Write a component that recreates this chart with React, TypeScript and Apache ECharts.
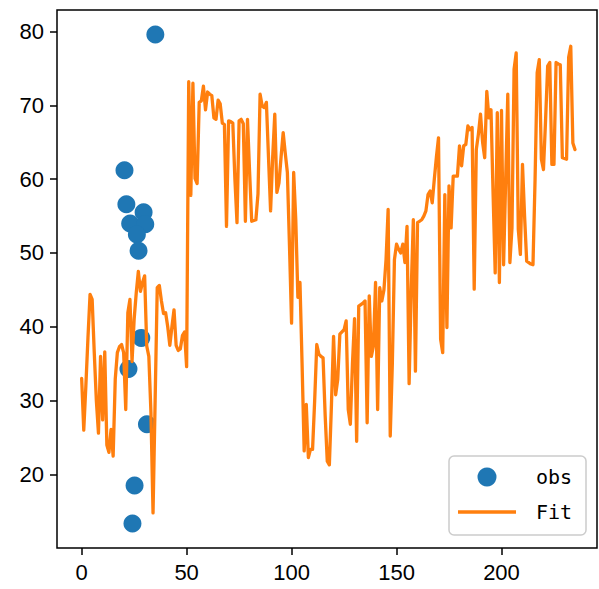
import React, { useEffect, useRef } from "react";
import * as echarts from "echarts";

const obsX = [35.1, 20.4, 21.3, 23.1, 29.5, 30.3, 26.3, 27.1, 28.4, 22.3, 31.1, 25.2, 24.2];
const obsY = [79.6, 61.2, 56.6, 54.0, 55.5, 53.9, 52.5, 50.3, 38.5, 34.3, 26.8, 18.5, 13.35];

const fitY = [
  33.0, 26.0, 32.0, 38.5, 44.4, 43.7, 36.5, 30.0, 25.6, 36.0,
  27.4, 36.6, 24.0, 23.0, 26.1, 22.5, 32.9, 36.5, 37.3, 37.6,
  36.5, 28.8, 41.9, 43.7, 35.3, 41.0, 44.6, 47.5, 44.8, 46.0,
  46.9, 37.4, 36.0, 28.4, 14.8, 30.0, 45.3, 45.6, 43.5, 41.8,
  41.9, 40.0, 37.5, 40.0, 42.3, 37.5, 36.8, 37.0, 38.8, 39.3,
  34.6, 73.2, 57.8, 73.0, 60.1, 59.4, 70.4, 70.6, 72.6, 69.4,
  71.8, 71.5, 71.3, 68.3, 68.1, 70.7, 70.2, 67.6, 67.4, 53.6,
  67.9, 67.8, 67.6, 60.0, 54.1, 67.9, 68.1, 67.5, 54.3, 68.1,
  61.0, 54.3, 54.4, 54.5, 58.0, 71.5, 69.9, 69.7, 70.4, 63.0,
  55.7, 63.0, 68.8, 58.2, 59.5, 63.0, 66.3, 63.5, 60.9, 51.0,
  40.5, 60.9, 54.5, 44.0, 46.0, 35.0, 23.2, 29.5, 22.3, 23.4,
  23.4, 30.0, 37.6, 36.3, 36.0, 35.8, 28.0, 21.8, 21.3, 29.5,
  38.7, 30.8, 32.9, 39.0, 39.3, 39.6, 40.8, 28.8, 26.8, 35.0,
  41.1, 24.5, 42.8, 43.0, 43.2, 43.5, 27.0, 44.2, 36.0, 37.4,
  46.0, 28.8, 45.3, 43.5, 45.0, 49.1, 55.9, 25.2, 35.0, 49.1,
  51.2, 50.5, 50.0, 51.2, 48.7, 53.6, 32.3, 45.0, 54.5, 34.0,
  54.1, 54.3, 54.5, 55.0, 55.7, 57.9, 58.4, 56.8, 60.0, 63.0,
  65.6, 38.3, 36.5, 57.9, 39.9, 59.1, 53.4, 60.4, 60.4, 60.4,
  64.5, 61.8, 64.5, 64.7, 67.2, 66.7, 67.0, 45.1, 64.0, 66.1,
  68.8, 65.0, 62.9, 71.9, 68.3, 69.4, 58.0, 47.3, 69.0, 46.0,
  69.3, 48.4, 60.0, 71.5, 48.7, 53.4, 74.9, 77.1, 53.2, 49.8,
  62.0, 55.0, 48.9, 48.7, 48.5, 48.4, 60.0, 74.4, 76.2, 62.7,
  61.3, 68.0, 75.3, 75.8, 62.0, 62.0, 75.8, 75.6, 75.5, 62.9,
  62.8, 62.7, 76.5, 78.0, 64.9, 64.0,
];

const xTicks = [0, 50, 100, 150, 200];
const yTicks = [20, 30, 40, 50, 60, 70, 80];
const legendLabels = ["obs", "Fit"];

const BLUE = "#1f77b4";
const ORANGE = "#ff7f0e";

export default function App() {
  const ref = useRef<HTMLDivElement>(null);
  useEffect(() => {
    if (!ref.current) return;
    const chart = echarts.init(ref.current, null, { renderer: "svg" });
    const scatterData = obsX.map((x, i) => [x, obsY[i]]);
    const lineData = fitY.map((y, i) => [i, y]);
    const tickFont = { fontFamily: "Liberation Sans", fontSize: 22, color: "#000" };
    chart.setOption({
      animation: false,
      backgroundColor: "#fff",
      grid: {
        left: 57,
        top: 10,
        width: 540,
        height: 538,
        show: true,
        borderColor: "#000",
        borderWidth: 1.5,
        backgroundColor: "transparent",
      },
      xAxis: {
        type: "value",
        min: -11.75,
        max: 245.5,
        splitLine: { show: false },
        axisLine: { show: false, onZero: false },
        axisTick: {
          show: true,
          length: 7,
          lineStyle: { color: "#000", width: 1.5 },
          customValues: xTicks,
        },
        axisLabel: { ...tickFont, margin: 13, customValues: xTicks },
      },
      yAxis: {
        type: "value",
        min: 10.04,
        max: 82.91,
        splitLine: { show: false },
        axisLine: { show: false, onZero: false },
        axisTick: {
          show: true,
          length: 7,
          lineStyle: { color: "#000", width: 1.5 },
          customValues: yTicks,
        },
        axisLabel: { ...tickFont, margin: 13, customValues: yTicks },
      },
      series: [
        {
          name: legendLabels[0],
          type: "scatter",
          data: scatterData,
          symbol: "circle",
          symbolSize: 18,
          itemStyle: { color: BLUE, opacity: 1 },
          z: 2,
        },
        {
          name: legendLabels[1],
          type: "line",
          data: lineData,
          showSymbol: false,
          symbol: "none",
          lineStyle: { color: ORANGE, width: 3.3, join: "round", cap: "round" },
          z: 3,
        },
      ],
      graphic: [
        {
          type: "rect",
          shape: { x: 449, y: 456, width: 137, height: 79, r: 5 },
          style: { fill: "rgba(255,255,255,0.8)", stroke: "#cccccc", lineWidth: 1.5 },
          z: 10,
        },
        {
          type: "circle",
          shape: { cx: 487, cy: 477, r: 9.5 },
          style: { fill: BLUE },
          z: 11,
        },
        {
          type: "line",
          shape: { x1: 458, y1: 512, x2: 516, y2: 512 },
          style: { stroke: ORANGE, lineWidth: 3.3 },
          z: 11,
        },
        {
          type: "text",
          x: 536,
          y: 477,
          style: {
            text: legendLabels[0],
            font: '20px "DejaVu Sans Mono"',
            fill: "#000",
            verticalAlign: "middle",
          },
          z: 11,
        },
        {
          type: "text",
          x: 536,
          y: 512,
          style: {
            text: legendLabels[1],
            font: '20px "DejaVu Sans Mono"',
            fill: "#000",
            verticalAlign: "middle",
          },
          z: 11,
        },
      ],
    });
    return () => chart.dispose();
  }, []);
  return (
    <div
      ref={ref}
      style={{ position: "fixed", left: 0, top: 0, width: 599, height: 589 }}
    />
  );
}
